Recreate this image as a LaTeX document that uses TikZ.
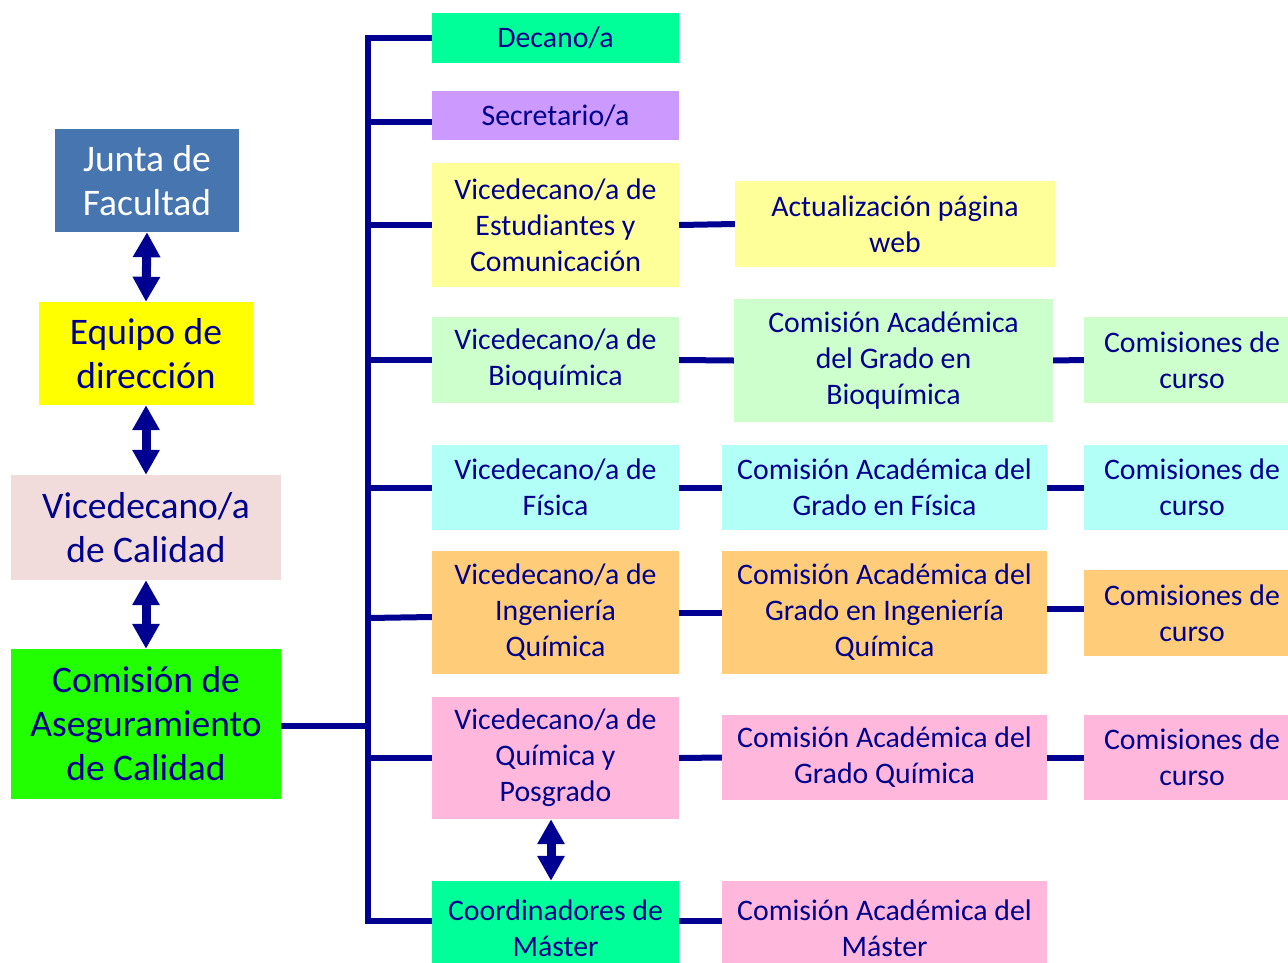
\documentclass[tikz,border=0pt]{standalone}
\usepackage{fontspec}
\setmainfont{Carlito}
\usetikzlibrary{arrows.meta,calc}
\definecolor{navytxt}{RGB}{0,0,140}
\definecolor{linec}{RGB}{0,0,145}
\definecolor{juntac}{RGB}{70,117,176}
\definecolor{yel}{RGB}{255,255,0}
\definecolor{vcal}{RGB}{242,220,219}
\definecolor{cacg}{RGB}{34,255,0}
\definecolor{mint}{RGB}{0,255,153}
\definecolor{lila}{RGB}{204,153,255}
\definecolor{lyel}{RGB}{255,255,153}
\definecolor{lgreen}{RGB}{204,255,204}
\definecolor{lcyan}{RGB}{178,255,248}
\definecolor{lorange}{RGB}{255,204,122}
\definecolor{lpink}{RGB}{255,183,219}
\begin{document}
\begin{tikzpicture}[x=1pt,y=-1pt,
  box/.style={draw=none, inner sep=0pt, align=center, text=navytxt, font=\fontsize{29.8}{36}\selectfont},
  bigbox/.style={box, font=\fontsize{37.5}{44}\selectfont},
  conn/.style={draw=linec, line width=6pt},
  dbl/.style={draw=linec, line width=9pt, {Triangle[width=26pt,length=25pt]}-{Triangle[width=26pt,length=25pt]}}]
\useasboundingbox (0,0) rectangle (1288,962);
% left column
\node[bigbox, fill=juntac, text=white, minimum width=184pt, minimum height=103pt] (jf) at (147,180.5) {Junta de\\Facultad};
\node[bigbox, fill=yel, minimum width=214pt, minimum height=103pt] (ed) at (146,353.5) {Equipo de\\dirección};
\node[bigbox, fill=vcal, minimum width=270pt, minimum height=105pt] (vc) at (146,527.5) {Vicedecano/a\\de Calidad};
\node[bigbox, fill=cacg, minimum width=270pt, minimum height=150pt] (cac) at (146,724) {Comisión de\\Aseguramiento\\de Calidad};
% middle column
\node[box, fill=mint, minimum width=247pt, minimum height=50pt] (dec) at (555.5,38) {Decano/a};
\node[box, fill=lila, minimum width=247pt, minimum height=49pt] (sec) at (555.5,115.5) {Secretario/a};
\node[box, fill=lyel, minimum width=247pt, minimum height=124pt] (vest) at (555.5,225) {Vicedecano/a de\\Estudiantes y\\Comunicación};
\node[box, fill=lgreen, minimum width=247pt, minimum height=86pt] (vbio) at (555.5,360) {Vicedecano/a de\\Bioquímica};
\node[box, fill=lcyan, minimum width=247pt, minimum height=85pt] (vfis) at (555.5,487.5) {Vicedecano/a de\\Física};
\node[box, fill=lorange, minimum width=247pt, minimum height=123pt] (viq) at (555.5,612.5) {Vicedecano/a de\\Ingeniería\\Química};
\node[box, fill=lpink, minimum width=247pt, minimum height=122pt] (vqp) at (555.5,758) {Vicedecano/a de\\Química y\\Posgrado};
\node[box, fill=mint, minimum width=247pt, minimum height=94pt] (coord) at (555.5,928) {Coordinadores de\\Máster};
% third column
\node[box, fill=lyel, minimum width=320pt, minimum height=86pt] (web) at (895,224) {Actualización página\\web};
\node[box, fill=lgreen, minimum width=319pt, minimum height=123pt] (cabio) at (893.5,360.5) {Comisión Académica\\del Grado en\\Bioquímica};
\node[box, fill=lcyan, minimum width=325pt, minimum height=85pt] (cafis) at (884.5,487.5) {Comisión Académica del\\Grado en Física};
\node[box, fill=lorange, minimum width=325pt, minimum height=123pt] (caiq) at (884.5,612.5) {Comisión Académica del\\Grado en Ingeniería\\Química};
\node[box, fill=lpink, minimum width=325pt, minimum height=85pt] (caq) at (884.5,757.5) {Comisión Académica del\\Grado Química};
\node[box, fill=lpink, minimum width=325pt, minimum height=94pt] (cam) at (884.5,928) {Comisión Académica del\\Máster};
% fourth column
\node[box, fill=lgreen, minimum width=216pt, minimum height=86pt] (ccbio) at (1192,360) {Comisiones de\\curso};
\node[box, fill=lcyan, minimum width=216pt, minimum height=85pt] (ccfis) at (1192,487.5) {Comisiones de\\curso};
\node[box, fill=lorange, minimum width=216pt, minimum height=86pt] (cciq) at (1192,613) {Comisiones de\\curso};
\node[box, fill=lpink, minimum width=216pt, minimum height=85pt] (ccq) at (1192,757.5) {Comisiones de\\curso};
% arrows
\draw[dbl] (jf.south) -- (ed.north);
\draw[dbl] (ed.south) -- (vc.north);
\draw[dbl] (vc.south) -- (cac.north);
\draw[dbl] ([xshift=-4.5pt]vqp.south) -- ([xshift=-4.5pt]coord.north);
% bus
\coordinate (bus) at (368,0);
\coordinate (busT) at (368,38);
\coordinate (busB) at (368,921);
\draw[conn] (dec.west) -- (busT) -- (busB) -- (busB -| coord.west);
\draw[conn] ([yshift=-6.5pt]sec.west) -- ([yshift=-6.5pt]sec.west -| bus);
\draw[conn] (vest.west) -- (vest.west -| bus);
\draw[conn] (vbio.west) -- (vbio.west -| bus);
\draw[conn] (vfis.west) -- (vfis.west -| bus);
\draw[conn] ([yshift=-4.5pt]viq.west) -- ([yshift=-5.5pt]viq.west -| bus);
\draw[conn] (vqp.west) -- (vqp.west -| bus);
\draw[conn] ([yshift=-2pt]cac.east) -- ([yshift=-2pt]cac.east -| bus);
% side connectors
\draw[conn] (vest.east) -- (web.west);
\draw[conn] (vbio.east) -- (cabio.west);
\draw[conn] (cabio.east) -- (ccbio.west);
\draw[conn] (vfis.east) -- (cafis.west);
\draw[conn] (cafis.east) -- (ccfis.west);
\draw[conn] (viq.east) -- (caiq.west);
\draw[conn] ([yshift=3.5pt]caiq.east) -- ([yshift=4pt]cciq.west);
\draw[conn] (vqp.east) -- (caq.west);
\draw[conn] (caq.east) -- (ccq.west);
\draw[conn] (busB -| coord.east) -- (busB -| cam.west);
\end{tikzpicture}
\end{document}
